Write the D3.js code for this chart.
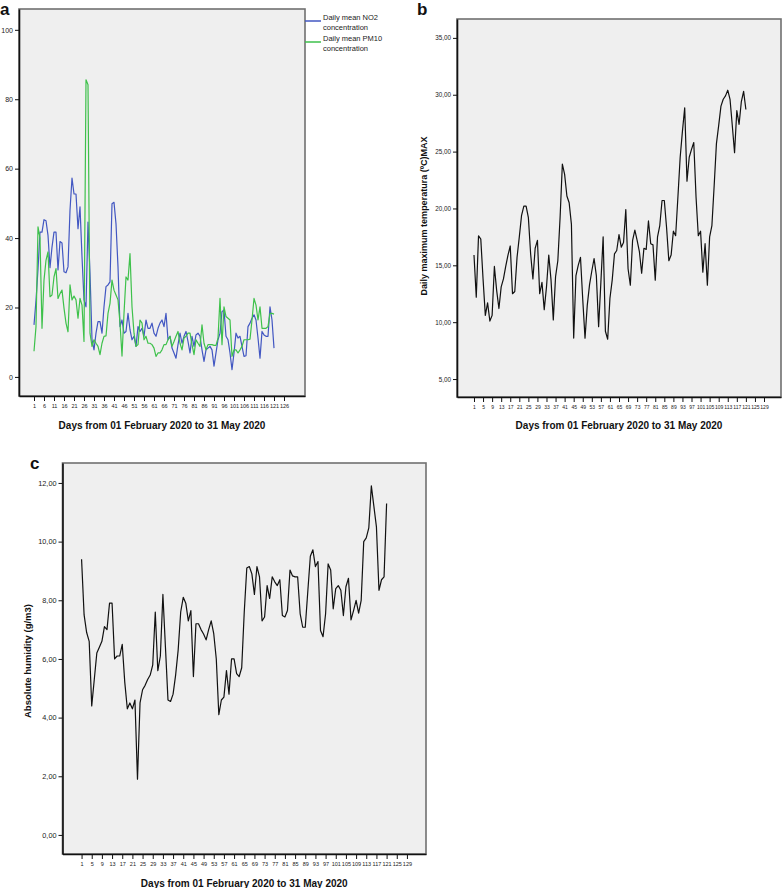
<!DOCTYPE html>
<html><head><meta charset="utf-8">
<script src="https://cdn.jsdelivr.net/npm/d3@7"></script>
<style>
body{margin:0;background:#fff}
svg{display:block;font-family:"Liberation Sans",Arial,sans-serif}
</style></head>
<body><svg id="chart" width="782" height="888"></svg>
<script>
// ---- data ----
const days = d3.range(1, 122);
const no2 = [15,22,31,41.7,41.7,45.3,45,40.8,31.5,37.4,
  41.7,41.7,30.8,39,38.6,30.3,30,31.7,48,57.3,
  52.7,52.7,42.7,49,34.6,22.2,20.2,44.6,30,10.7,
  7.8,12.6,15.9,15.9,12.6,20.2,26,26.5,27.4,49.9,
  50.3,44.1,31.7,14.5,16.4,12.6,13.1,18.3,13.6,10.7,
  11.7,8.8,14.5,13.1,14,11.7,16.4,14,14,15.5,
  12.6,11.7,14,15.5,16.4,14.5,18.3,10.7,11.7,8.3,
  6.9,5.4,9.3,12.6,9.7,11.7,13.1,10.2,6.9,11.7,
  8.8,12.1,12.6,11.7,7.8,4.5,7.8,8.3,8.8,7.8,
  3.1,6.9,10.7,12.6,18.8,19.3,11.7,10.7,6.9,2.1,
  6.9,12.6,11.2,11.7,8.8,5.9,6.1,14.5,15.5,16.9,
  17.9,16.4,11.2,5.4,13.1,12.1,11.7,11.7,20.2,16.4,8.3];
const pm10 = [7.4,14.5,43.2,40,14,27.9,33.6,36,23.1,23.6,
  28.8,31.2,22.6,24,25,19.8,15.5,13,26.5,22.2,
  23.3,22.2,16.9,22.6,20.7,10.2,85.6,84.2,12.6,8.8,
  10.7,9.7,8.8,6.4,9.7,11.7,11.8,18.3,21.2,27.9,
  25,23.6,22.2,15.5,6.0,18.3,28.8,27.9,35.5,20.2,
  12.6,8.8,9.3,16.4,15.5,10.7,11.7,9.7,9.7,9.3,
  8.3,5.9,6.9,6.9,7.8,9.3,9.3,10.7,11.7,8.8,
  10.2,11.7,13.1,9.7,7.8,11.2,11.7,12.6,12.6,9.3,
  6.4,10.7,9.7,8.8,15,9.7,7.8,9.3,9.3,9.3,
  9.1,9.1,11.2,22.6,9.3,20.2,17.4,16.9,16.4,5.9,
  7.8,7.8,6.9,7.8,8.8,10.7,10.7,10.7,10.9,16.4,
  22.6,20.7,16.4,20.2,14,14,14,14.5,18.3,18.3,18.1];
const tmax = [15.9,12.2,17.6,17.3,13.8,10.6,11.7,10.1,10.6,14.9,
  12.8,11.2,13.1,13.8,14.9,15.9,16.7,12.5,12.7,15.7,
  17.5,19.4,20.2,20.2,19.2,16.0,13.8,16.5,17.2,12.5,
  13.5,11.1,13.1,15.9,13.7,10.2,14.0,15.4,19.2,23.9,
  23.0,21.1,20.5,18.6,8.6,14.1,15.0,15.7,12.0,8.6,
  11.5,13.3,14.5,15.6,14.1,9.6,13.5,17.5,9.2,8.5,
  12.1,13.7,16.0,16.3,17.7,16.6,17.0,19.9,14.7,13.25,
  17.2,18.1,17.2,16.2,14.3,16.5,16.4,18.9,16.9,16.8,
  13.7,17.5,18.5,20.7,20.7,18.3,15.4,15.9,18.0,17.6,
  21.0,24.5,26.8,28.85,22.4,24.5,25.2,25.8,21.0,17.6,
  18.0,14.4,16.9,13.25,17.5,18.5,22.0,25.7,27.3,29.0,
  29.6,29.9,30.4,29.6,27.3,24.9,28.6,27.4,29.4,30.3,28.7];
const humidity = [9.4,7.5,6.9,6.6,4.4,5.3,6.2,6.4,6.6,7.1,
  7.0,7.9,7.9,6.0,6.1,6.1,6.5,5.2,4.3,4.5,
  4.3,4.6,1.9,4.5,4.95,5.1,5.3,5.45,5.8,7.6,
  5.6,6.1,8.2,6.4,4.6,4.55,4.8,5.45,6.3,7.6,
  8.1,7.9,7.3,7.65,5.4,7.2,7.2,7.0,6.85,6.65,
  7.0,7.3,6.86,6.0,4.1,4.6,4.7,5.6,4.8,6.0,
  6.0,5.5,5.4,5.7,7.6,9.1,9.15,8.9,8.2,9.15,
  8.8,7.3,7.43,8.5,8.06,8.8,8.63,8.5,8.7,7.48,
  7.43,7.65,9.03,8.83,8.8,8.8,7.54,7.08,7.08,8.3,
  9.5,9.72,9.15,9.32,6.97,6.76,7.54,9.24,9.03,7.71,
  8.4,8.5,8.34,7.48,8.46,8.75,7.33,7.65,8.0,7.56,
  8.0,10.0,10.13,10.47,11.9,11.2,10.5,8.34,8.7,8.8,11.3];

const ticksA_x = d3.range(1, 127, 5);
const ticksBC_x = d3.range(1, 130, 4);
const ticksA_y = [0, 20, 40, 60, 80, 100];
const ticksB_y = [5, 10, 15, 20, 25, 30, 35];
const ticksC_y = [0, 2, 4, 6, 8, 10, 12];

const xTitle = "Days from 01 February 2020 to 31 May 2020";
const yTitleB = "Daily maximum temperatura (ºC)MAX";
const yTitleC = "Absolute humidity (g/m3)";
const legendLabels = [["Daily mean NO2", "concentration"], ["Daily mean PM10", "concentration"]];
const seriesColors = ["#4257c2", "#3ec14b"];

// ---- drawing ----
const svg = d3.select("#chart");
const comma = v => v.toFixed(2).replace(".", ",");

function panel(o) {
  const x = d3.scaleLinear().domain([-6.5, 136.5]).range([o.x0, o.x1]);
  const y = d3.scaleLinear().domain(o.yDom).range([o.y1, o.y0]);
  const g = svg.append("g");
  g.append("rect").attr("x", o.x0).attr("y", o.y0)
    .attr("width", o.x1 - o.x0).attr("height", o.y1 - o.y0)
    .attr("fill", "#efefef").attr("stroke", "#707070").attr("stroke-width", 1.6);
  const ya = g.append("g").attr("transform", `translate(${o.x0},0)`)
    .call(d3.axisLeft(y).tickValues(o.yt).tickSize(4).tickSizeOuter(0).tickPadding(2)
      .tickFormat(o.yfmt));
  const xa = g.append("g").attr("transform", `translate(0,${o.y1})`)
    .call(d3.axisBottom(x).tickValues(o.xt).tickSize(5).tickSizeOuter(0).tickPadding(3.5));
  [ya, xa].forEach(a => {
    a.select(".domain").attr("stroke", "#111").attr("stroke-width", 1.6);
    a.selectAll(".tick line").attr("stroke", "#111").attr("stroke-width", 1);
    a.selectAll("text").attr("fill", "#222").attr("font-family", "'Liberation Sans',Arial,sans-serif");
  });
  ya.selectAll("text").attr("font-size", o.yfs);
  xa.selectAll("text").attr("font-size", o.xfs);
  const line = d3.line().x((d, i) => x(days[i])).y(d => y(d));
  o.series.forEach((s, k) => {
    g.append("path").datum(s).attr("d", line).attr("fill", "none")
      .attr("stroke", o.colors[k]).attr("stroke-width", 1.2).attr("stroke-linejoin", "round");
  });
  g.append("text").attr("x", (o.x0 + o.x1) / 2).attr("y", o.titleY)
    .attr("text-anchor", "middle").attr("font-weight", "bold").attr("font-size", 10)
    .attr("fill", "#111").text(xTitle);
  if (o.yTitle) {
    g.append("text").attr("transform", `translate(${o.yTitleX},${o.yTitleY}) rotate(-90)`)
      .attr("text-anchor", "middle").attr("dominant-baseline", "central")
      .attr("font-weight", "bold").attr("font-size", o.yTitleFs).attr("fill", "#111").text(o.yTitle);
  }
  g.append("text").attr("x", o.lab[0]).attr("y", o.lab[1]).attr("font-weight", "bold")
    .attr("font-size", 17).attr("fill", "#111").text(o.label);
  return {x, y, g};
}

panel({x0: 19, x1: 305, y0: 9, y1: 396, yDom: [-5.5, 106], yt: ticksA_y, xt: ticksA_x,
  yfmt: d3.format("d"), yfs: 7, xfs: 5.5, series: [no2, pm10], colors: seriesColors,
  titleY: 428.5, label: "a", lab: [0, 15]});
// legend
legendLabels.forEach((lbl, k) => {
  const ly = 21 + k * 21;
  svg.append("line").attr("x1", 305).attr("x2", 321).attr("y1", ly).attr("y2", ly)
    .attr("stroke", seriesColors[k]).attr("stroke-width", 1.5);
  svg.append("text").attr("x", 323).attr("y", ly - 1.5).attr("font-size", 7.5).attr("fill", "#222").text(lbl[0]);
  svg.append("text").attr("x", 323).attr("y", ly + 8.5).attr("font-size", 7.5).attr("fill", "#222").text(lbl[1]);
});

panel({x0: 457, x1: 781, y0: 19, y1: 397, yDom: [3.42, 36.66], yt: ticksB_y, xt: ticksBC_x,
  yfmt: comma, yfs: 6.3, xfs: 5, series: [tmax], colors: ["#111"],
  titleY: 428.5, yTitle: yTitleB, yTitleX: 424, yTitleY: 216, yTitleFs: 9,
  label: "b", lab: [417, 15]});

panel({x0: 62.5, x1: 426, y0: 463, y1: 854, yDom: [-0.65, 12.68], yt: ticksC_y, xt: ticksBC_x,
  yfmt: comma, yfs: 7.3, xfs: 5.5, series: [humidity], colors: ["#111"],
  titleY: 886.5, yTitle: yTitleC, yTitleX: 27.5, yTitleY: 661, yTitleFs: 9.5,
  label: "c", lab: [30, 469]});
</script>
</body></html>
